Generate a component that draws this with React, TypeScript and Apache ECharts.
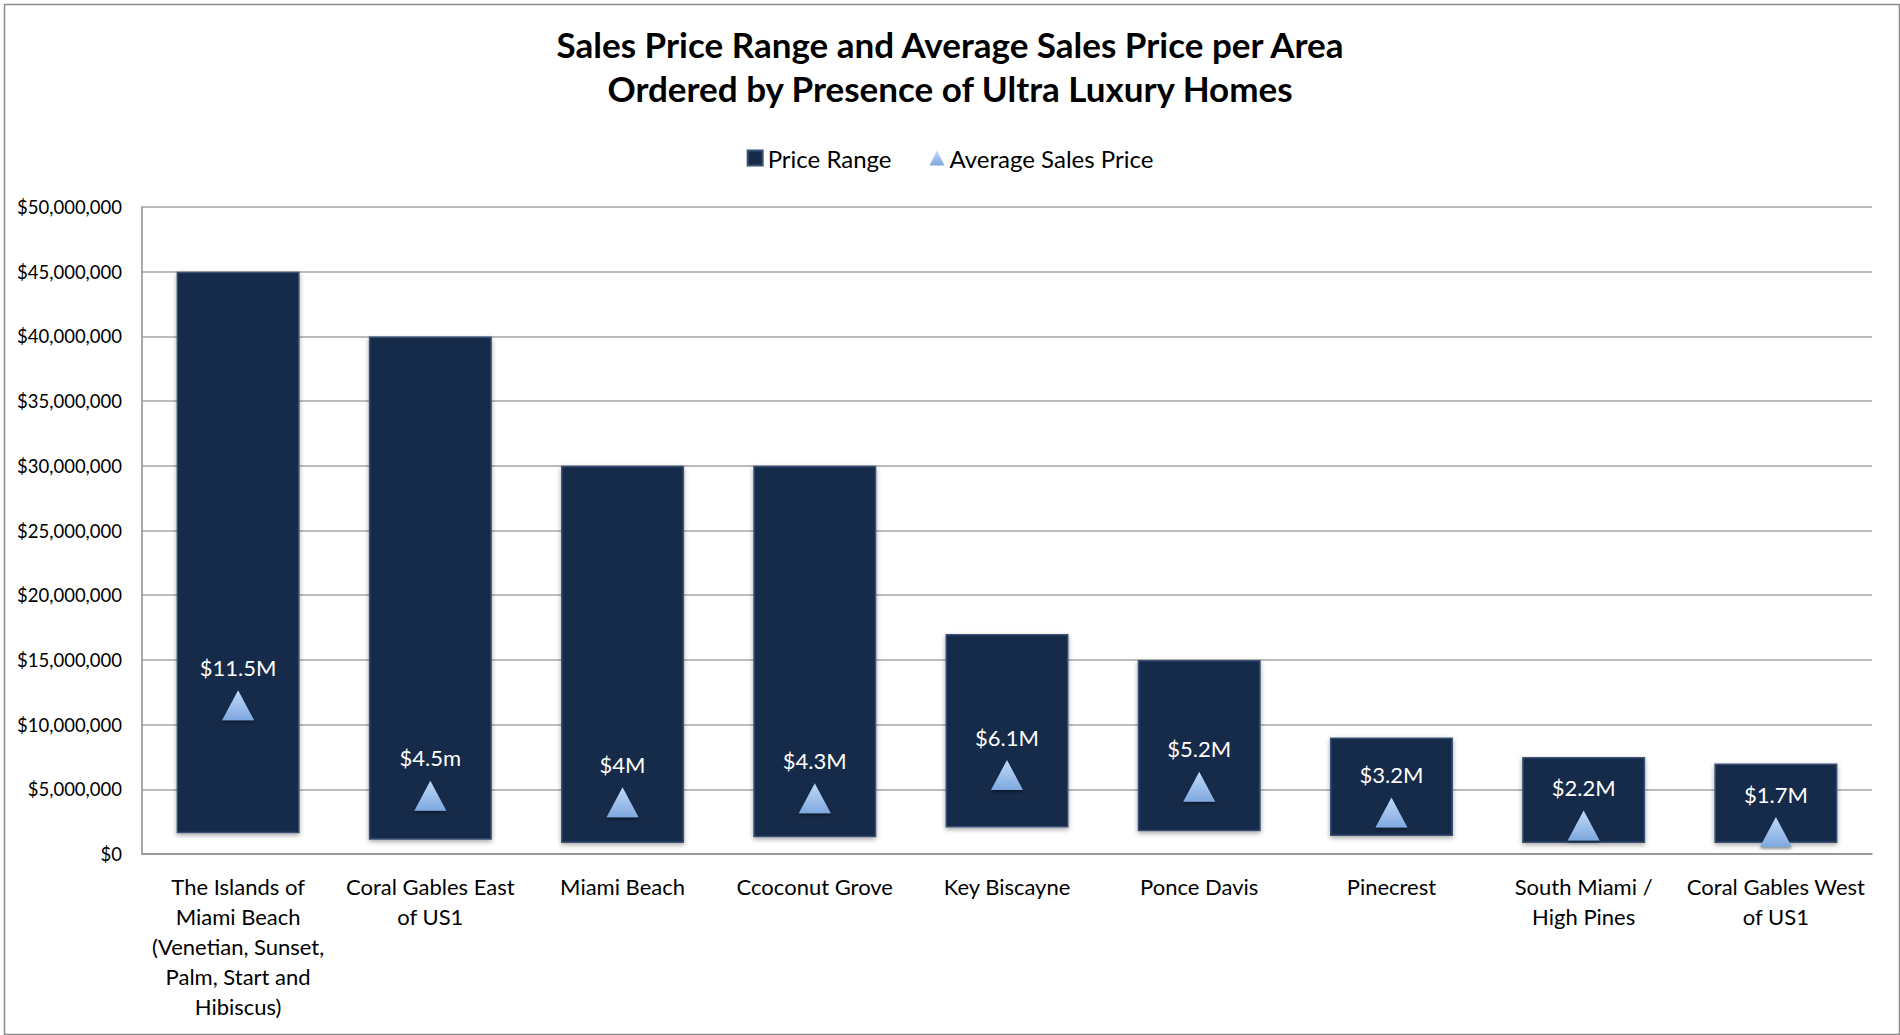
import React, { useEffect, useRef } from 'react';
import * as echarts from 'echarts';

const areas = [
  'The Islands of\nMiami Beach\n(Venetian, Sunset,\nPalm, Start and\nHibiscus)',
  'Coral Gables East\nof US1',
  'Miami Beach',
  'Ccoconut Grove',
  'Key Biscayne',
  'Ponce Davis',
  'Pinecrest',
  'South Miami /\nHigh Pines',
  'Coral Gables West\nof US1',
];
// low and high ends of each price range, in dollars
const rangeLow = [1600000, 1100000, 850000, 1300000, 2050000, 1750000, 1400000, 850000, 850000];
const rangeHigh = [45000000, 40000000, 30000000, 30000000, 17000000, 15000000, 9000000, 7500000, 7000000];
const avgPrice = [11500000, 4500000, 4000000, 4300000, 6100000, 5200000, 3200000, 2200000, 1700000];
const avgLabels = ['$11.5M', '$4.5m', '$4M', '$4.3M', '$6.1M', '$5.2M', '$3.2M', '$2.2M', '$1.7M'];

const FONT = 'Lato, "Open Sans", sans-serif';

export default function App() {
  const chartRef = useRef<HTMLDivElement>(null);

  useEffect(() => {
    document.body.style.margin = '0';
    if (!chartRef.current) return;
    const chart = echarts.init(chartRef.current, null, { renderer: 'svg' });

    const option: echarts.EChartsOption = {
      animation: false,
      backgroundColor: '#ffffff',
      textStyle: { fontFamily: FONT },
      title: {
        text: 'Sales Price Range and Average Sales Price per Area\nOrdered by Presence of Ultra Luxury Homes',
        left: 'center',
        top: 17,
        textStyle: {
          fontFamily: FONT,
          fontSize: 35,
          fontWeight: 'bold',
          color: '#000',
          lineHeight: 44,
        },
      },
      legend: {
        top: 141,
        left: 'center',
        itemGap: 38,
        itemWidth: 15,
        itemHeight: 15,
        data: [
          { name: 'Price Range', icon: 'rect' },
          { name: 'Average Sales Price', icon: 'triangle' },
        ],
        textStyle: { fontFamily: FONT, fontSize: 24, color: '#000' },
      },
      grid: { left: 142, right: 28, top: 207, bottom: 181 },
      xAxis: {
        type: 'category',
        data: areas,
        axisTick: { show: false },
        axisLine: { lineStyle: { color: '#8c8c8c', width: 1.5 } },
        axisLabel: {
          interval: 0,
          fontFamily: FONT,
          fontSize: 22,
          lineHeight: 30,
          color: '#000',
          margin: 17,
        },
      },
      yAxis: {
        type: 'value',
        min: 0,
        max: 50000000,
        interval: 5000000,
        axisLine: { show: true, lineStyle: { color: '#8c8c8c', width: 1.5 } },
        axisTick: { show: false },
        splitLine: { lineStyle: { color: '#a6a6a6', width: 1.5 } },
        axisLabel: {
          fontFamily: FONT,
          fontSize: 18.5,
          color: '#000',
          margin: 20,
          formatter: (v: number) => '$' + v.toLocaleString('en-US'),
        },
      },
      series: [
        {
          name: 'base',
          type: 'bar',
          stack: 'range',
          barWidth: '64%',
          itemStyle: { color: 'transparent' },
          emphasis: { disabled: true },
          data: rangeLow,
        },
        {
          name: 'Price Range',
          type: 'bar',
          stack: 'range',
          barWidth: '64%',
          itemStyle: {
            color: '#172a48',
            borderColor: '#3a5075',
            borderWidth: 1.5,
            shadowBlur: 5,
            shadowOffsetY: 2,
            shadowColor: 'rgba(0,0,0,0.35)',
          },
          data: rangeHigh.map((h, i) => h - rangeLow[i]),
        },
        {
          name: 'Average Sales Price',
          type: 'scatter',
          symbol: 'triangle',
          symbolSize: [32, 30],
          z: 5,
          itemStyle: {
            opacity: 1,
            color: new echarts.graphic.LinearGradient(0, 0, 0, 1, [
              { offset: 0, color: '#c0dafa' },
              { offset: 1, color: '#7fa8de' },
            ]),
            shadowBlur: 3,
            shadowOffsetY: 2,
            shadowColor: 'rgba(0,0,0,0.4)',
          },
          label: {
            show: true,
            position: 'top',
            distance: 12,
            color: '#ffffff',
            fontFamily: FONT,
            fontSize: 22,
            formatter: (p: any) => avgLabels[p.dataIndex],
          },
          data: avgPrice,
        },
      ],
      graphic: [
        {
          type: 'rect',
          left: 2,
          top: 2,
          shape: { width: 1895, height: 1030 },
          style: { fill: 'none', stroke: '#8c8c8c', lineWidth: 1.5 },
          silent: true,
        },
      ],
    };

    chart.setOption(option);
    return () => {
      chart.dispose();
    };
  }, []);

  return <div ref={chartRef} style={{ width: '1900px', height: '1035px' }} />;
}
